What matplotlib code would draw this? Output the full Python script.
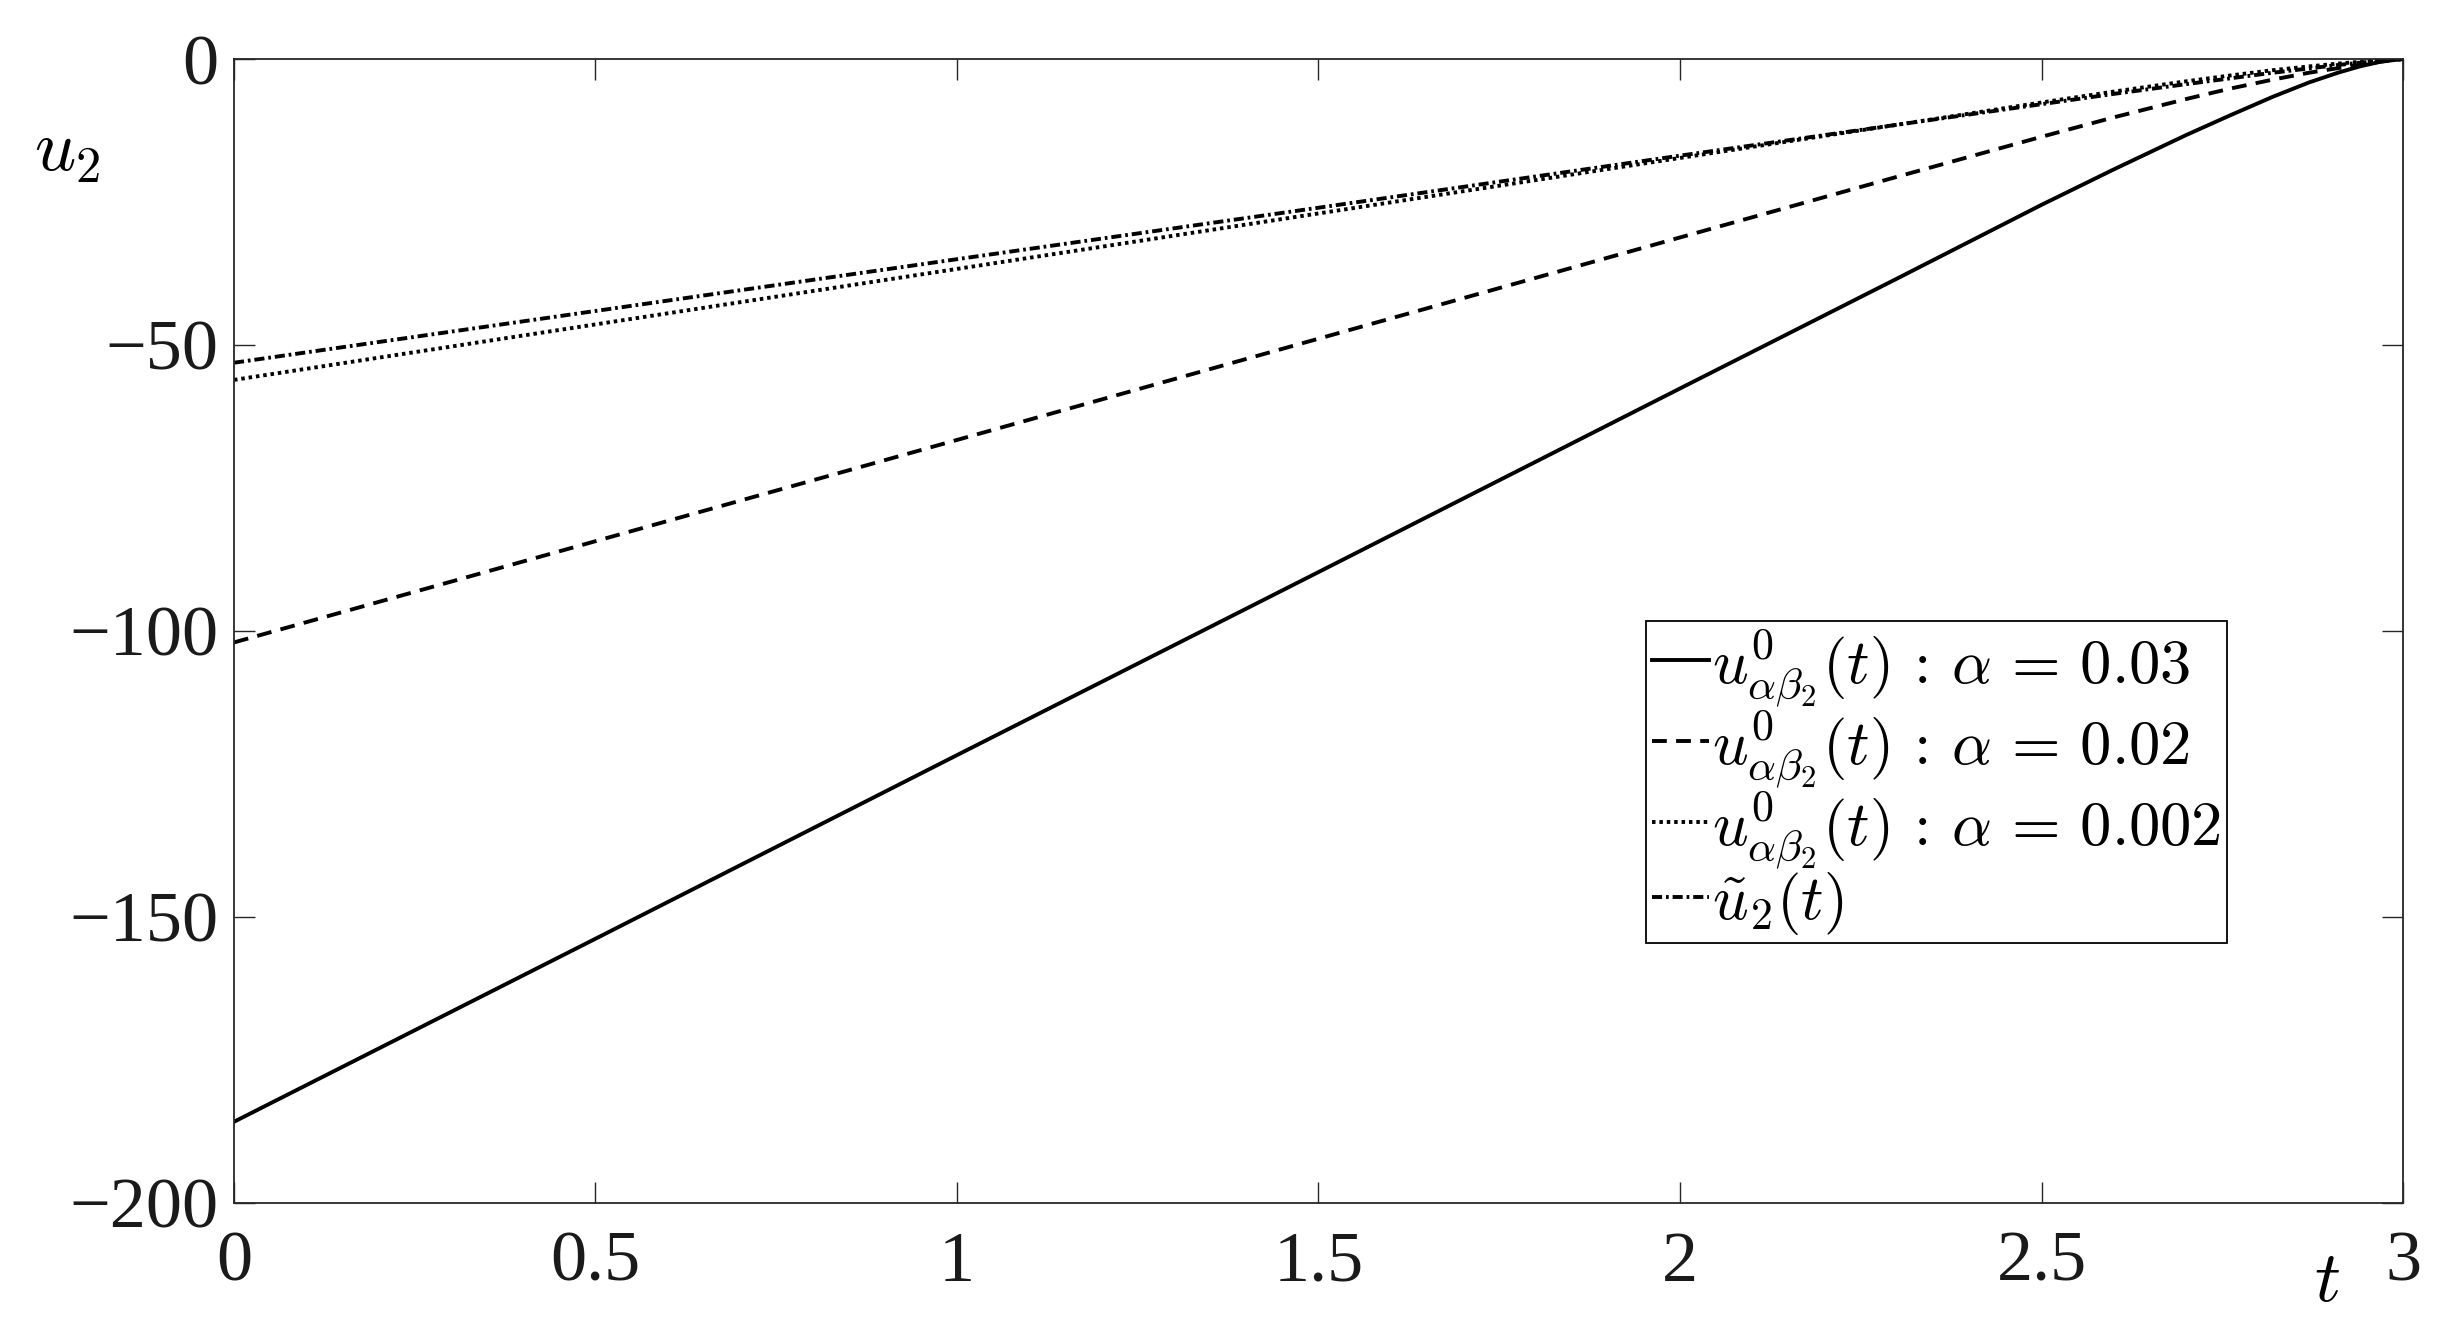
import matplotlib
matplotlib.use("Agg")
import matplotlib.pyplot as plt
import numpy as np

plt.rcParams['font.family'] = 'serif'
plt.rcParams['font.serif'] = ['Liberation Serif', 'DejaVu Serif']
plt.rcParams['mathtext.fontset'] = 'cm'

# values
t = [0, 0.5, 1, 1.5, 2, 2.3, 2.5, 2.6, 2.7, 2.76, 2.82, 2.87, 2.91, 2.94, 2.97, 3.0]
u_a003 = [-185.8, -153.8, -121.7, -89.7, -57.6, -38.4, -25.5, -19.3, -13.3, -9.9,
          -6.6, -4.1, -2.4, -1.3, -0.45, 0]
u_a002 = [-102.0, -84.3, -66.6, -48.9, -31.2, -20.6, -13.6, -10.2, -7.0, -5.2,
          -3.6, -2.4, -1.6, -1.0, -0.45, 0]
u_a0002 = [-56.1, -46.4, -36.7, -27.0, -17.3, -11.5, -7.6, -5.7, -3.9, -2.9,
           -1.95, -1.3, -0.8, -0.5, -0.2, 0]
u_tilde = [-53.1, -44.05, -35.0, -26.0, -16.9, -11.5, -7.9, -6.1, -4.4, -3.4,
           -2.4, -1.65, -1.05, -0.65, -0.3, 0]

xticks = [0, 0.5, 1, 1.5, 2, 2.5, 3]
xtick_labels = ['0', '0.5', '1', '1.5', '2', '2.5', '3']
yticks = [0, -50, -100, -150, -200]

labels = [r'$u^0_{\alpha\beta_2}(t)\,:\,\alpha\,=\,0.03$',
          r'$u^0_{\alpha\beta_2}(t)\,:\,\alpha\,=\,0.02$',
          r'$u^0_{\alpha\beta_2}(t)\,:\,\alpha\,=\,0.002$',
          r'$\tilde{u}_2(t)$']

fig = plt.figure(figsize=(24.54, 13.40), dpi=100)
ax = fig.add_axes([0.09535, 0.10224, 0.97922 - 0.09535, 0.95597 - 0.10224])

lw = 2.8
ax.plot(t, u_a003, color='black', lw=lw, linestyle='-', label=labels[0])
ax.plot(t, u_a002, color='black', lw=lw, linestyle=(0, (3.8, 2.4)), label=labels[1])
ax.plot(t, u_a0002, color='black', lw=lw, linestyle=(0, (0.9, 1.0)), label=labels[2])
ax.plot(t, u_tilde, color='black', lw=lw, linestyle=(0, (2.6, 1.0, 0.7, 1.0)), label=labels[3])

ax.set_xlim(0, 3)
ax.set_ylim(-200, 0)
ax.set_xticks(xticks)
ax.set_xticklabels(xtick_labels)
ax.set_yticks(yticks)

axcol = '#262626'
for s in ax.spines.values():
    s.set_color(axcol)
    s.set_linewidth(1.3)
ax.tick_params(direction='in', length=15, width=1.0, color=axcol, labelcolor='#1a1a1a',
               labelsize=52, top=True, right=True)
ax.tick_params(axis='y', pad=11)
ax.tick_params(axis='x', pad=20)

ax.set_ylabel(r'$u_2$', rotation=0, fontsize=52, ha='center', va='center')
ax.yaxis.set_label_coords(-0.077, 0.918)
ax.set_xlabel(r'$t$', fontsize=52, ha='center', va='center')
ax.xaxis.set_label_coords(0.965, -0.07)

leg = ax.legend(loc='upper left', bbox_to_anchor=(0.651, 0.5087), borderaxespad=0,
                fontsize=45, fancybox=False, framealpha=1, edgecolor='black',
                handlelength=0.9, handletextpad=0.05, borderpad=0.1, labelspacing=0.0)
leg.get_frame().set_linewidth(1.3)

plt.savefig("out.png", dpi=100)
